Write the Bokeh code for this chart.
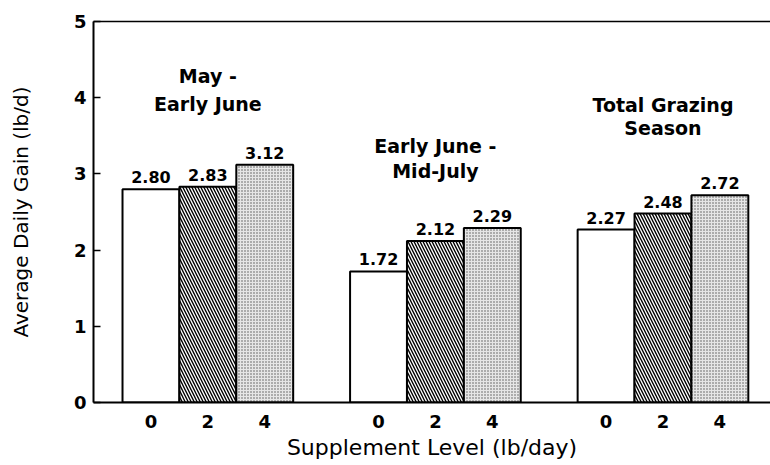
from bokeh.plotting import figure
from bokeh.models import Range1d, FixedTicker, LinearAxis, Label, ColumnDataSource
from bokeh.core.properties import value
from bokeh.embed import file_html
from bokeh.resources import INLINE

# ---- data ----
periods = ["May - | Early June", "Early June - | Mid-July", "Total Grazing | Season"]
levels = ["0", "2", "4"]
gain_0 = [2.80, 1.72, 2.27]
gain_2 = [2.83, 2.12, 2.48]
gain_4 = [3.12, 2.29, 2.72]
y_ticks = [0, 1, 2, 3, 4, 5]

FONT = "DejaVu Sans"

# positions: each period is a group of three bars, one gap bar between groups
xs, tops, lvl = [], [], []
series = [gain_0, gain_2, gain_4]
for gi in range(len(periods)):
    for li in range(len(levels)):
        xs.append(gi * (len(levels) + 1) + li)
        tops.append(series[li][gi])
        lvl.append(levels[li])

p = figure(width=770, height=465, output_backend="svg", toolbar_location=None,
           x_range=Range1d(-1.01, 10.89), y_range=Range1d(0, 5),
           min_border_top=21, min_border_left=93, min_border_right=0,
           min_border_bottom=63)
p.outline_line_color = None
p.grid.grid_line_color = None
p.background_fill_color = "white"

# bars
styles = [
    dict(fill_color="white"),
    dict(fill_color="white", hatch_pattern="\\", hatch_color="black",
         hatch_scale=6, hatch_weight=1.4),
    dict(fill_color="#e6e6e6", hatch_pattern="dot", hatch_color="#555555",
         hatch_scale=3, hatch_weight=1),
]
for li in range(len(levels)):
    sx = [x for x, l in zip(xs, lvl) if l == levels[li]]
    st = [t for t, l in zip(tops, lvl) if l == levels[li]]
    src = ColumnDataSource(dict(x=sx, top=st, lab=["%.2f" % v for v in st]))
    p.vbar(x="x", top="top", width=1.0, bottom=0, source=src,
           line_color="black", line_width=2, **styles[li])
    p.text(x="x", y="top", text="lab", source=src, text_align="center",
           text_baseline="bottom", y_offset=-6, text_font=value(FONT),
           text_font_style="bold", text_font_size="16px", text_color="black")

# period titles
title_y = [(4.29, 3.92), (3.37, 3.04), (3.91, 3.60)]
for gi, name in enumerate(periods):
    lines = [s.strip() for s in name.split("|")]
    cx = gi * (len(levels) + 1) + 1
    for k, line in enumerate(lines):
        p.add_layout(Label(x=cx, y=title_y[gi][k], text=line, text_align="center",
                           text_baseline="middle", text_font=FONT,
                           text_font_style="bold", text_font_size="19px",
                           text_color="black"))

# y axis
ya = p.yaxis[0]
ya.ticker = FixedTicker(ticks=y_ticks)
ya.axis_label = "Average Daily Gain (lb/d)"
ya.axis_label_text_font = FONT
ya.axis_label_text_font_style = "normal"
ya.axis_label_text_font_size = "20px"
ya.axis_label_text_color = "black"
ya.axis_label_standoff = 38
ya.major_label_text_font = FONT
ya.major_label_text_font_style = "bold"
ya.major_label_text_font_size = "18px"
ya.major_label_text_color = "black"
ya.major_label_standoff = 7
ya.major_tick_in = 7
ya.major_tick_out = 0
ya.minor_tick_line_color = None
ya.axis_line_width = 2
ya.axis_line_color = "black"
ya.major_tick_line_width = 1.5

# x axis
xa = p.xaxis[0]
xa.ticker = FixedTicker(ticks=xs)
xa.major_label_overrides = {x: l for x, l in zip(xs, lvl)}
xa.axis_label = "Supplement Level (lb/day)"
xa.axis_label_text_font = FONT
xa.axis_label_text_font_style = "normal"
xa.axis_label_text_font_size = "22px"
xa.axis_label_text_color = "black"
xa.axis_label_standoff = 4
xa.major_label_text_font = FONT
xa.major_label_text_font_style = "bold"
xa.major_label_text_font_size = "18px"
xa.major_label_text_color = "black"
xa.major_label_standoff = 6
xa.major_tick_line_color = None
xa.minor_tick_line_color = None
xa.axis_line_width = 2
xa.axis_line_color = "black"

# top frame line
top = LinearAxis(ticker=FixedTicker(ticks=[]), major_label_text_font_size="0px",
                 major_tick_line_color=None, minor_tick_line_color=None,
                 axis_line_width=1.5, axis_line_color="black")
p.add_layout(top, "above")

open("out.html", "w").write(file_html(p, INLINE))
